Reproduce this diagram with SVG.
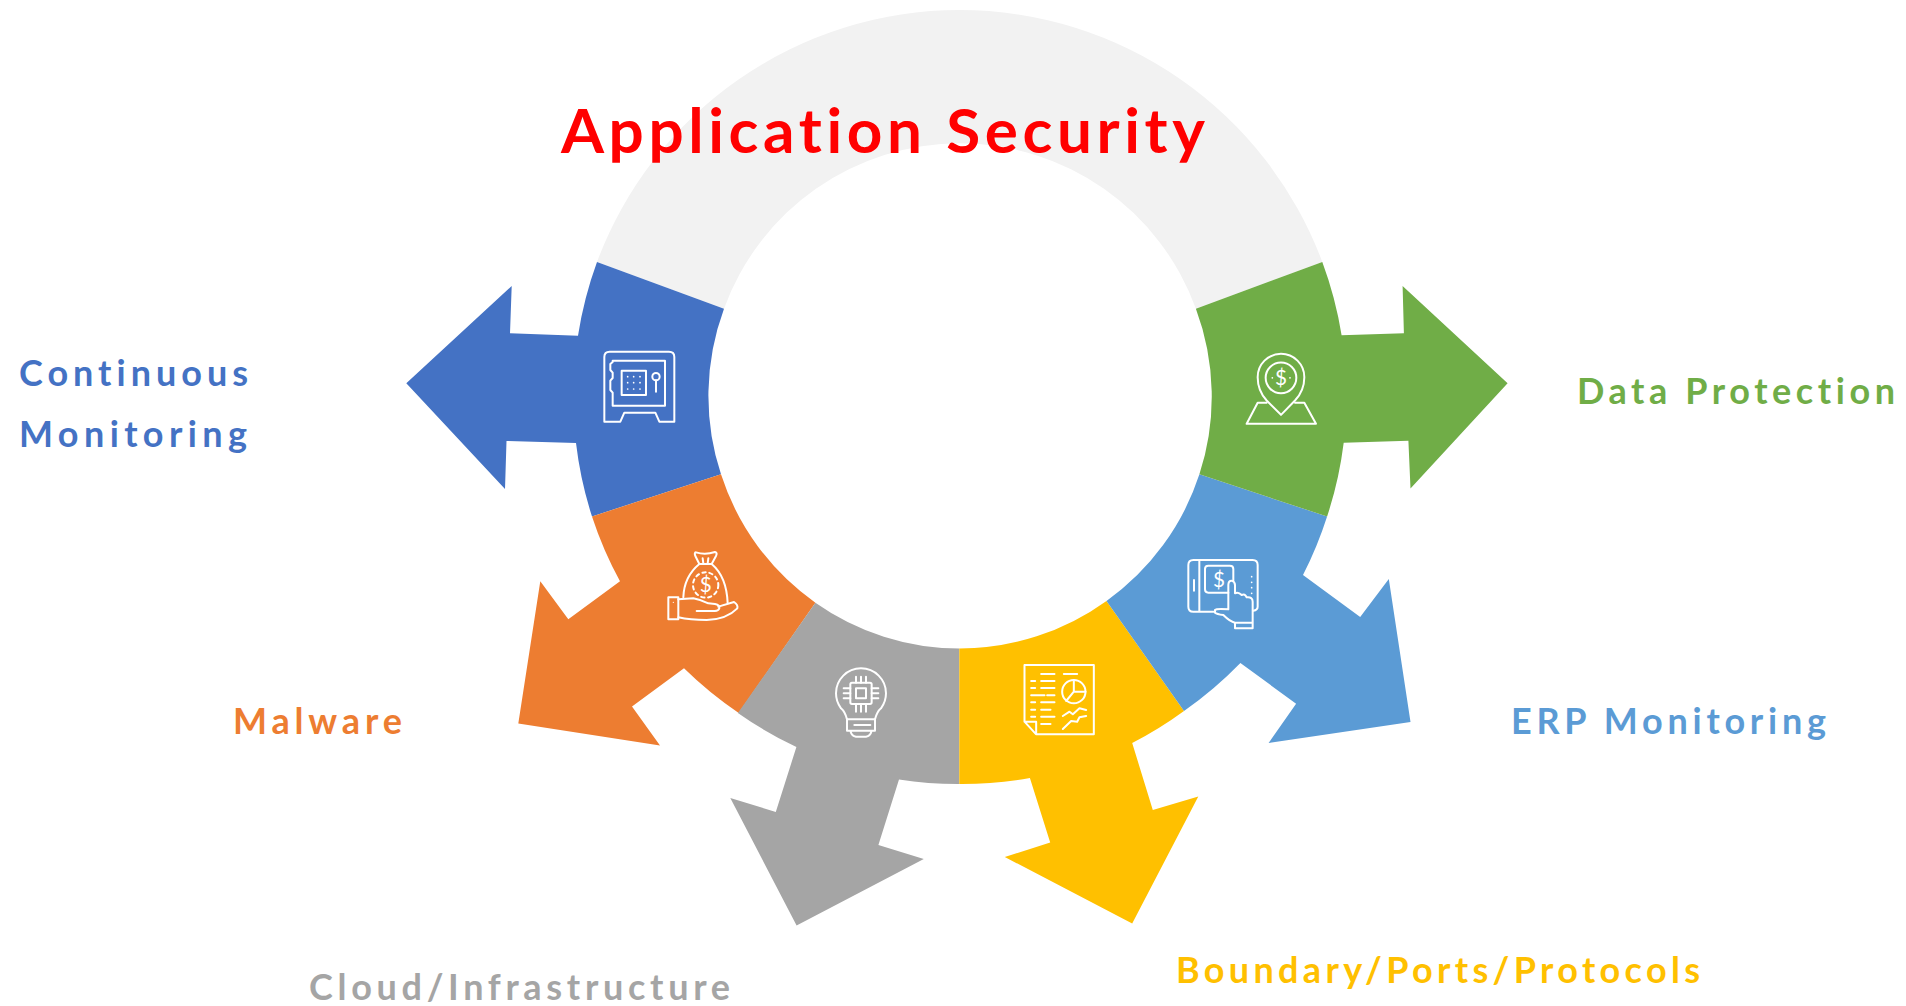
<svg xmlns="http://www.w3.org/2000/svg" width="1906" height="1006" viewBox="0 0 1906 1006">
<style>
text{font-variant-ligatures:none}
.lbl{font-family:Lato,"Open Sans","Liberation Sans",sans-serif;font-weight:700;font-size:36px}
.ico{fill:none;stroke:#fff;stroke-width:6;stroke-linejoin:round;stroke-linecap:round}
.dol{font-family:Lato,"Liberation Sans",sans-serif;font-size:62px;fill:#fff;text-anchor:middle}
.dot{fill:#fff;stroke:none}
</style>
<rect width="1906" height="1006" fill="#fff"/>
<g id="ring"><path d="M597 262A387 387 0 0 1 1322.3 262L1195.9 308.7A251 251 0 0 0 724 308.7Z" fill="#F2F2F2"/></g>
<g id="continuous-monitoring">
<path d="M597 262A387 387 0 0 0 578 335.7L510 333.3L511.7 286L406.3 383.3L505 489L506.5 441L576 443A387 387 0 0 0 592 516.5L721 474.3A251 251 0 0 1 724 308.7Z" fill="#4472C4"/>
<g class="ico" transform="translate(591 340) scale(.3333)">
<path d="M56 35H234Q250 35 250 51V245H205L193 218H100L88 245H40V51Q40 35 56 35Z"/>
<path d="M65 62H222V197H65V158L58 150V122L65 114V98L58 90V72L65 66Z"/>
<rect x="92" y="92" width="73" height="73"/>
<circle cx="195" cy="110" r="11"/><path d="M195 121V155"/>
<g class="dot"><circle cx="110" cy="110" r="2.6"/><circle cx="128" cy="110" r="2.6"/><circle cx="147" cy="110" r="2.6"/><circle cx="110" cy="128" r="2.6"/><circle cx="128" cy="128" r="2.6"/><circle cx="147" cy="128" r="2.6"/><circle cx="110" cy="147" r="2.6"/><circle cx="128" cy="147" r="2.6"/><circle cx="147" cy="147" r="2.6"/></g>
</g>
</g>
<g id="malware">
<path d="M592 516.5A387 387 0 0 0 620 581.3L568.3 619.3L540.3 581.3L518.3 723.5L660 745.5L632 706.5L684 668.3A387 387 0 0 0 738.7 713L815.4 602.7A251 251 0 0 1 721 474.3Z" fill="#ED7D31"/>
<g class="ico" transform="translate(660 540) scale(.3333)">
<path d="M108 37Q135 46 165 36Q173 38 168 48L155 72H118L106 48Q102 38 108 37Z"/>
<path d="M128 55L130 70M145 55L143 70M118 72Q72 110 70 172M155 72Q200 110 203 190"/>
<circle cx="137" cy="135" r="38" stroke-dasharray="10 11"/>
<rect x="25" y="172" width="30" height="66"/><circle class="dot" cx="40" cy="187" r="2"/>
<path d="M55 178L100 175Q125 180 145 190L165 192Q180 195 178 205Q175 215 160 213H110"/>
<path d="M175 200L222 186Q235 195 232 205Q200 238 140 240Q90 240 55 232"/>
<text class="dol" x="137" y="157" stroke="none">$</text>
</g>
</g>
<g id="cloud-infrastructure">
<path d="M815.4 602.7L737.9 713A387 387 0 0 0 796.4 747L775.8 812L730.3 798L796.6 925.5L923.8 859L878.4 845L899 779.5A387 387 0 0 0 959.3 784V648.5A251 251 0 0 1 815.4 602.7Z" fill="#A5A5A5"/>
<g class="ico" transform="translate(821 660) scale(.3333)">
<path d="M78 178Q72 155 60 145Q45 125 45 100A75 75 0 0 1 195 100Q195 125 180 145Q168 155 162 178"/>
<path d="M78 178H162V212H78ZM100 195H148M88 212Q92 228 105 230H135Q148 228 152 212"/>
<rect x="88" y="68" width="64" height="64" rx="5"/><rect x="105" y="85" width="30" height="30"/>
<path d="M105 50V68M120 50V68M135 50V68M105 132V155M120 132V155M135 132V155M68 85H88M68 100H88M68 115H88M152 85H172M152 100H172M152 115H172"/>
</g>
</g>
<g id="boundary-ports-protocols">
<path d="M959.3 648.5V784A387 387 0 0 0 1029.9 778L1050.2 842.5L1004.8 857L1132.2 923.5L1198.3 796.5L1152.8 810L1132.2 743A387 387 0 0 0 1184 711L1106.5 601A251 251 0 0 1 959.3 648.5Z" fill="#FFC000"/>
<g class="ico" transform="translate(1014.5 655) scale(.3333)">
<path d="M30 30H238V238H65L30 200ZM30 200H65V238"/>
<path d="M80 57H120M148 57H188M50 78H62M80 78H120M50 99H62M80 99H120M50 121H90M98 121H120M50 142H62M80 142H120M50 164H62M80 164H108M50 185H62M80 185H120M80 207H108"/>
<circle cx="178" cy="110" r="35"/><path d="M178 75V110H213M178 110L155 138"/>
<path d="M145 183L165 170L175 178L195 160L215 165M145 222L170 198L188 200L195 187L215 183"/>
</g>
</g>
<g id="erp-monitoring">
<path d="M1106.5 601L1184 711A387 387 0 0 0 1240.4 663L1296.1 703.7L1268.6 743L1410.5 722L1388.8 579L1360.2 617L1303 575A387 387 0 0 0 1327.1 516.5L1199.4 474.3A251 251 0 0 1 1106.5 601Z" fill="#5B9BD5"/>
<g class="ico" transform="translate(1180 550) scale(.3333)">
<path d="M105 185H40Q25 185 25 170V45Q25 30 40 30H218Q233 30 233 45V170Q233 180 220 182M58 30V185M42 90V122"/>
<path d="M145 128H85Q75 128 75 118V57Q75 47 85 47H150Q160 47 160 57V92"/>
<path d="M145 178V105Q145 92 155 92Q165 95 165 105V130Q175 125 185 135Q195 130 200 142Q218 140 218 155V235H165V218Q150 215 130 195Q110 192 105 188V180Q110 175 145 178ZM165 218H218"/>
<g class="dot"><circle cx="215" cy="80" r="2.6"/><circle cx="215" cy="97" r="2.6"/><circle cx="215" cy="113" r="2.6"/><circle cx="215" cy="130" r="2.6"/></g>
<text class="dol" x="117" y="110" stroke="none">$</text>
</g>
</g>
<g id="data-protection">
<path d="M1199.4 474.3L1327.1 516.5A387 387 0 0 0 1343.7 442.7L1408.4 440.7L1410.5 488.5L1507.6 383.3L1402.6 286L1403.9 333.3L1341.6 335.3A387 387 0 0 0 1322.3 262L1195.9 308.7A251 251 0 0 1 1199.4 474.3Z" fill="#70AD47"/>
<g class="ico" transform="translate(1235 345.5) scale(.3333)">
<path d="M138 208L95 165Q68 135 68 95A70 70 0 0 1 208 95Q208 135 180 165Z"/>
<circle cx="138" cy="97" r="46"/>
<path d="M95 172H68L35 235H243L208 172H180"/>
<g class="dot"><circle cx="112" cy="97" r="2.6"/><circle cx="165" cy="97" r="2.6"/></g>
<text class="dol" x="138" y="119" stroke="none">$</text>
</g>
</g>
<g id="labels">
<text x="561" y="153" font-family="Lato,'Open Sans','Liberation Sans',sans-serif" font-weight="700" font-size="62" fill="#F00" textLength="644">Application Security</text>
<text class="lbl" x="19" y="386" fill="#4472C4" textLength="229">Continuous</text>
<text class="lbl" x="19" y="447" fill="#4472C4" textLength="228">Monitoring</text>
<text class="lbl" x="1577" y="404" fill="#70AD47" textLength="318">Data Protection</text>
<text class="lbl" x="233" y="734" fill="#ED7D31" textLength="169">Malware</text>
<text class="lbl" x="1511" y="734" fill="#5B9BD5" textLength="315">ERP Monitoring</text>
<text class="lbl" x="1176" y="983" fill="#FFC000" textLength="524">Boundary/Ports/Protocols</text>
<text class="lbl" x="309" y="1000" fill="#A5A5A5" textLength="421">Cloud/Infrastructure</text>
</g>
</svg>
